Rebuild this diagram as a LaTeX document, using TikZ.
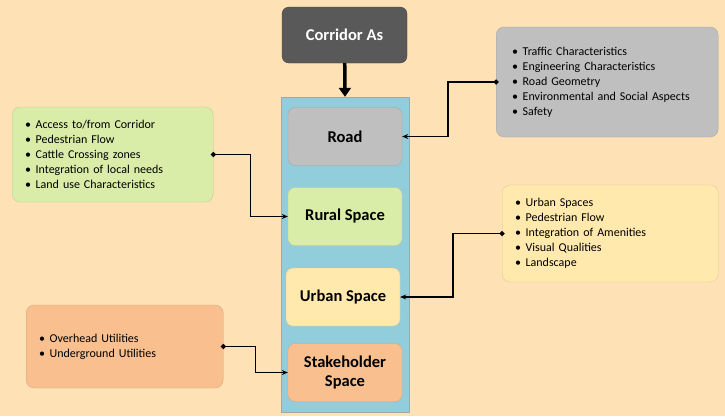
\documentclass[tikz,border=0pt]{standalone}
\usepackage{fontspec}
\setmainfont{Carlito}
\usetikzlibrary{arrows.meta}
\definecolor{bgpeach}{HTML}{FEE1B5}
\definecolor{laneblue}{HTML}{92CDDC}
\definecolor{darkbox}{HTML}{595959}
\definecolor{roadgray}{HTML}{BFBFBF}
\definecolor{ruralgreen}{HTML}{D9EDA9}
\definecolor{urbanyellow}{HTML}{FFE9AD}
\definecolor{stakeorange}{HTML}{F9BF8F}
\newcommand{\itm}{\makebox[10.5pt][l]{\textbullet}}
\begin{document}
\begin{tikzpicture}[x=1pt,y=-1pt,
    space/.style={rounded corners=7pt,align=center,font=\fontsize{16.5}{18}\selectfont\bfseries,
      minimum width=114pt,minimum height=58pt,inner sep=0pt,draw=#1!85!black,fill=#1,line width=0.3pt},
    list/.style={rounded corners=8pt,align=left,font=\fontsize{12}{15}\selectfont,
      inner xsep=13pt,inner ysep=0pt,anchor=west,draw=#1!85!black,fill=#1,line width=0.3pt},
    link/.style={line width=1.2pt,{Circle[length=5pt]}-{Stealth[length=6pt,width=5pt]},shorten <=-2.5pt}]
  \useasboundingbox[fill=bgpeach] (0,0) rectangle (725,416);
  % corridor and lane
  \node[rounded corners=7pt,fill=darkbox,draw=darkbox!80!black,text=white,
    font=\fontsize{16.5}{18}\selectfont\bfseries,minimum width=125pt,minimum height=56pt] (corridor) at (344.5,35) {Corridor As};
  \node[fill=laneblue,draw=gray!70,line width=0.4pt,minimum width=128pt,minimum height=315pt] (lane) at (345,254.5) {};
  \draw[line width=3.5pt,-{Triangle[length=9pt,width=12pt]}] (corridor) -- (lane.north);
  % spaces
  \node[space=roadgray] (road) at (345,136.5) {Road};
  \node[space=ruralgreen] (rural) at (345,216.5) {Rural Space};
  \node[space=urbanyellow] (urban) at (343,297) {Urban Space};
  \node[space=stakeorange] (stake) at (345,372.5) {Stakeholder\\[1pt]Space};
  % lists
  \node[list=ruralgreen,minimum width=201pt,minimum height=95pt,text width=175pt] (ruralinfo) at (12,154.5)
    {\itm Access to/from Corridor\\ \itm Pedestrian Flow\\ \itm Cattle Crossing zones\\
     \itm Integration of local needs\\ \itm Land use Characteristics};
  \node[list=roadgray,minimum width=221pt,minimum height=110pt,text width=190pt,inner xsep=16pt] (roadinfo) at (496,82)
    {\itm Traffic Characteristics\\ \itm Engineering Characteristics\\ \itm Road Geometry\\
     \itm Environmental and Social Aspects\\ \itm Safety};
  \node[list=urbanyellow,minimum width=216pt,minimum height=97pt,text width=190pt] (urbaninfo) at (502,233.5)
    {\itm Urban Spaces\\ \itm Pedestrian Flow\\ \itm Integration of Amenities\\
     \itm Visual Qualities\\ \itm Landscape};
  \node[list=stakeorange,minimum width=197pt,minimum height=83pt,text width=171pt] (stakeinfo) at (26,346.5)
    {\itm Overhead Utilities\\ \itm Underground Utilities};
  % connectors
  \draw[link] (ruralinfo.east) -- ++(37,0) |- (rural.west);
  \draw[link] (roadinfo.west) -- ++(-48,0) |- (road.east);
  \draw[link] (urbaninfo.west) -- ++(-49,0) |- (urban.east);
  \draw[link] (stakeinfo.east) -- ++(32,0) |- (stake.west);
\end{tikzpicture}
\end{document}
